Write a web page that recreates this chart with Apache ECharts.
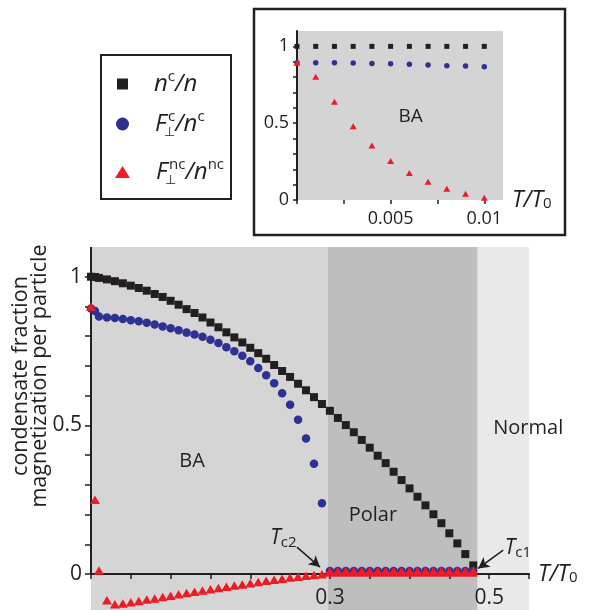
<!DOCTYPE html>
<html>
<head>
<meta charset="utf-8">
<script src="https://cdn.jsdelivr.net/npm/echarts@6/dist/echarts.min.js"></script>
<style>
  html, body { margin: 0; padding: 0; background: #fff; }
  #main { width: 593px; height: 610px; }
</style>
</head>
<body>
<div id="main"></div>
<script>
// temperatures T/T0 of the main panel
const tMain = [0, 0.005, 0.01, 0.02, 0.03, 0.04, 0.05, 0.06, 0.07, 0.08, 0.09,
  0.10, 0.11, 0.12, 0.13, 0.14, 0.15, 0.16, 0.17, 0.18, 0.19,
  0.20, 0.21, 0.22, 0.23, 0.24, 0.25, 0.26, 0.27, 0.28, 0.29,
  0.30, 0.31, 0.32, 0.33, 0.34, 0.35, 0.36, 0.37, 0.38, 0.39,
  0.40, 0.41, 0.42, 0.43, 0.44, 0.45, 0.46, 0.47, 0.48];
// n^c / n
const ncMain = [1.0, 0.999, 0.996, 0.991, 0.985, 0.978, 0.970, 0.962, 0.953, 0.942, 0.932,
  0.919, 0.906, 0.891, 0.878, 0.863, 0.846, 0.830, 0.813, 0.796, 0.779,
  0.761, 0.743, 0.724, 0.703, 0.683, 0.663, 0.640, 0.618, 0.595, 0.572,
  0.549, 0.525, 0.501, 0.477, 0.451, 0.425, 0.398, 0.373, 0.344, 0.316,
  0.288, 0.260, 0.231, 0.201, 0.171, 0.137, 0.103, 0.067, 0.029];
// F_perp^c / n^c
const fcMain = [0.893, 0.885, 0.866, 0.863, 0.861, 0.858, 0.854, 0.850, 0.845, 0.839, 0.833,
  0.827, 0.820, 0.812, 0.806, 0.798, 0.788, 0.777, 0.763, 0.749, 0.734,
  0.716, 0.693, 0.669, 0.642, 0.608, 0.569, 0.519, 0.456, 0.371, 0.238,
  0.01, 0.01, 0.01, 0.01, 0.01, 0.01, 0.01, 0.01, 0.01, 0.01,
  0.01, 0.01, 0.01, 0.01, 0.01, 0.01, 0.01, 0.01, 0.01];
// F_perp^nc / n^nc
const fncMain = [0.90, 0.25, 0.012, -0.088, -0.102, -0.099, -0.095, -0.091, -0.086, -0.082, -0.077,
  -0.073, -0.068, -0.064, -0.060, -0.055, -0.051, -0.047, -0.043, -0.039, -0.035,
  -0.031, -0.027, -0.023, -0.019, -0.016, -0.012, -0.009, -0.006, -0.003, -0.001,
  0.01, 0.01, 0.01, 0.01, 0.01, 0.01, 0.01, 0.01, 0.01, 0.01,
  0.01, 0.01, 0.01, 0.01, 0.01, 0.01, 0.01, 0.01, 0.01];
// red line lying on the axis in the polar phase
const redZeroT = [0.29, 0.485];
const redZeroV = [-0.004, -0.004];

// inset (low temperature)
const tInset = [0, 0.001, 0.002, 0.003, 0.004, 0.005, 0.006, 0.007, 0.008, 0.009, 0.01];
const ncInset = [1, 1, 1, 1, 1, 1, 1, 1, 1, 1, 1];
const fcInset = [0.893, 0.893, 0.893, 0.891, 0.889, 0.887, 0.883, 0.878, 0.874, 0.872, 0.867];
const fncInset = [0.893, 0.802, 0.640, 0.480, 0.354, 0.254, 0.176, 0.119, 0.074, 0.041, 0.015];

// phase boundaries
const phaseEdges = [0, 0.2975, 0.4855, 0.55];

// ticks and labels
const yTicks = [0, 0.1, 0.2, 0.3, 0.4, 0.5, 0.6, 0.7, 0.8, 0.9, 1];
const yLabels = [0, 0.5, 1];
const xTicks = [0, 0.05, 0.1, 0.15, 0.2, 0.25, 0.3, 0.35, 0.4, 0.45, 0.5, 0.55];
const xLabels = [0.3, 0.5];
const insetXTicks = [0, 0.0025, 0.005, 0.0075, 0.01];
const insetXLabels = [0.005, 0.01];

const FONT = '"Open Sans", "DejaVu Sans", sans-serif';
const BLACK = '#231f20';
const BLUE = '#2e3192';
const RED = '#ed1c24';

// main panel: y range and the pixel height of the grid (top 247 → bottom 610)
const Y_MIN = -0.121, Y_MAX = 1.1, GRID_H = 363;
const zeroOffset = -GRID_H * (0 - Y_MIN) / (Y_MAX - Y_MIN);

const pairs = (xs, ys) => xs.map((x, i) => [x, ys[i]]);

const txt = (size, extra) => Object.assign({ fontFamily: FONT, fontSize: size, color: BLACK }, extra || {});

const axisNameRich = {
  i: txt(23, { fontStyle: 'italic' }),
  n: txt(23, { fontStyle: 'italic' }),
  s: txt(15, { verticalAlign: 'bottom', lineHeight: 14 })
};

const legendRich = {
  i: txt(24, { fontStyle: 'italic', lineHeight: 30 }),
  F: txt(24, { fontStyle: 'italic', lineHeight: 30, width: 9 }),
  p: txt(15, { lineHeight: 16, verticalAlign: 'top' }),
  pF: txt(15, { lineHeight: 16, verticalAlign: 'top', padding: [0, 0, 0, 4] }),
  b: { fontFamily: 'DejaVu Sans', fontSize: 13, color: BLACK, lineHeight: 8, verticalAlign: 'bottom', width: 0 }
};
const legendText = {
  nc: '{i|n}{p|c}{i|/n}',
  Fc: '{F|F}{b|⊥}{pF|c}{i|/n}{p|c}',
  Fnc: '{F|F}{b|⊥}{pF|nc}{i|/n}{p|nc}'
};
const makeLegend = (name, icon, w, h, left, top) => ({
  data: [{ name: name, icon: icon }],
  orient: 'vertical',
  left: left,
  top: top,
  padding: 0,
  itemWidth: w,
  itemHeight: h,
  selectedMode: false,
  formatter: (n) => legendText[n],
  textStyle: { padding: [0, 0, 0, 21], rich: legendRich }
});

const chart = echarts.init(document.getElementById('main'), null, { renderer: 'canvas' });

chart.setOption({
  animation: false,
  backgroundColor: '#fff',
  legend: [
    makeLegend('nc', 'rect', 11, 11, 117, 69),
    makeLegend('Fc', 'circle', 13, 13, 116, 109),
    makeLegend('Fnc', 'triangle', 15, 12, 115, 157)
  ],
  grid: [
    { left: 91, top: 247, right: 64, height: GRID_H, containLabel: false, outerBoundsMode: 'none' },
    { left: 297, top: 31, width: 206, height: 169, show: true, backgroundColor: '#d5d4d5', borderWidth: 0, outerBoundsMode: 'none' }
  ],
  xAxis: [
    {
      type: 'value', gridIndex: 0, min: 0, max: 0.55, z: 2,
      position: 'bottom', offset: zeroOffset,
      splitLine: { show: false },
      axisLine: { show: true, onZero: false, lineStyle: { color: BLACK, width: 2 } },
      axisTick: { show: true, length: 5, customValues: xTicks, lineStyle: { color: BLACK, width: 1.5 } },
      axisLabel: { customValues: xLabels, margin: 13, ...txt(21) },
      name: '{i|T}{n|/}{i|T}{s|0}', nameLocation: 'end', nameGap: 9,
      nameTextStyle: { rich: axisNameRich, verticalAlign: 'middle' }
    },
    {
      type: 'value', gridIndex: 1, min: 0, max: 0.011, z: 2,
      splitLine: { show: false },
      axisLine: { show: false },
      axisTick: { show: true, length: 4, customValues: insetXTicks, lineStyle: { color: BLACK, width: 1.5 } },
      axisLabel: { customValues: insetXLabels, margin: 10, ...txt(18) },
      name: '{i|T}{n|/}{i|T}{s|0}', nameLocation: 'end', nameGap: 9,
      nameTextStyle: { rich: axisNameRich, verticalAlign: 'middle' }
    }
  ],
  yAxis: [
    {
      type: 'value', gridIndex: 0, min: Y_MIN, max: Y_MAX, z: 2,
      splitLine: { show: false },
      axisLine: { show: false },
      axisTick: { show: true, length: 6, customValues: yTicks, lineStyle: { color: BLACK, width: 1.5 } },
      axisLabel: { customValues: yLabels, margin: 9, ...txt(21) }
    },
    {
      type: 'value', gridIndex: 1, min: 0, max: 1.1, z: 2,
      splitLine: { show: false },
      axisLine: { show: true, lineStyle: { color: BLACK, width: 2 } },
      axisTick: { show: true, length: 4, customValues: yTicks, lineStyle: { color: BLACK, width: 1.5 } },
      axisLabel: { customValues: yLabels, margin: 8, ...txt(18) }
    }
  ],
  graphic: [
    {
      type: 'rect', shape: { x: 101, y: 55, width: 130, height: 144 },
      style: { fill: 'none', stroke: BLACK, lineWidth: 2 }, silent: true
    },
    {
      type: 'rect', shape: { x: 254, y: 9, width: 311, height: 226 },
      style: { fill: 'none', stroke: BLACK, lineWidth: 2.5 }, silent: true
    },
    {
      type: 'text', x: 30, y: 376, rotation: Math.PI / 2, silent: true,
      style: {
        text: 'condensate fraction\nmagnetization per particle',
        fontFamily: FONT, fontSize: 21.5, lineHeight: 19, fill: BLACK,
        textAlign: 'center', textVerticalAlign: 'middle', align: 'center', verticalAlign: 'middle'
      }
    }
  ],
  series: [
    {
      // phase shading, drawn under the axes
      type: 'line', xAxisIndex: 0, yAxisIndex: 0, name: 'phases',
      data: [], z: 1, silent: true,
      markArea: {
        silent: true,
        data: [
          [{ xAxis: phaseEdges[0], itemStyle: { color: '#d6d5d6' } }, { xAxis: phaseEdges[1] }],
          [{ xAxis: phaseEdges[1], itemStyle: { color: '#bebebe' } }, { xAxis: phaseEdges[2] }],
          [{ xAxis: phaseEdges[2], itemStyle: { color: '#e9e9e9' } }, { xAxis: phaseEdges[3] }]
        ]
      },
      markPoint: {
        silent: true, symbol: 'circle', symbolSize: 0,
        label: { show: true, position: 'inside', formatter: '{b}', ...txt(20) },
        data: [
          { name: 'BA', coord: [0.127, 0.38] },
          { name: 'Polar', coord: [0.354, 0.198] },
          { name: 'Normal', coord: [0.549, 0.491] }
        ]
      }
    },
    {
      // red segment on the axis (polar phase) + y axis line
      type: 'line', xAxisIndex: 0, yAxisIndex: 0, name: 'zero',
      data: pairs(redZeroT, redZeroV), symbol: 'none',
      lineStyle: { color: RED, width: 3 }, z: 3, silent: true,
      markLine: {
        silent: true, symbol: 'none', label: { show: false },
        lineStyle: { color: BLACK, width: 2, type: 'solid' },
        data: [[{ coord: [0, 0] }, { coord: [0, 1.1] }]]
      }
    },
    {
      type: 'scatter', name: 'nc', xAxisIndex: 0, yAxisIndex: 0,
      data: pairs(tMain, ncMain), symbol: 'rect', symbolSize: 8,
      itemStyle: { color: BLACK, opacity: 1 }, z: 4,
      markLine: {
        silent: true, symbol: ['none', 'arrow'], symbolSize: [9, 11], label: { show: false },
        lineStyle: { color: BLACK, width: 1.6, type: 'solid' },
        data: [
          [{ coord: [0.2586, 0.0908] }, { coord: [0.2875, 0.0235] }],
          [{ coord: [0.5176, 0.0807] }, { coord: [0.4862, 0.019] }]
        ]
      },
      markPoint: {
        silent: true, symbol: 'circle', symbolSize: 0,
        label: {
          show: true, position: 'inside', formatter: '{i|T}{s|{b}}',
          rich: {
            i: txt(21, { fontStyle: 'italic', lineHeight: 24 }),
            s: txt(15, { verticalAlign: 'bottom', lineHeight: 12 })
          }
        },
        data: [
          { name: 'c2', coord: [0.2417, 0.121] },
          { name: 'c1', coord: [0.536, 0.0875] }
        ]
      }
    },
    {
      type: 'scatter', name: 'Fc', xAxisIndex: 0, yAxisIndex: 0,
      data: pairs(tMain, fcMain), symbol: 'circle', symbolSize: 8.5,
      itemStyle: { color: BLUE, opacity: 1 }, z: 5
    },
    {
      type: 'scatter', name: 'Fnc', xAxisIndex: 0, yAxisIndex: 0,
      data: pairs(tMain, fncMain), symbol: 'triangle', symbolSize: [10, 8.5],
      itemStyle: { color: RED, opacity: 1 }, z: 6
    },
    {
      type: 'scatter', name: 'nc', xAxisIndex: 1, yAxisIndex: 1,
      data: pairs(tInset, ncInset), symbol: 'rect', symbolSize: 5,
      itemStyle: { color: BLACK, opacity: 1 }, z: 4,
      markPoint: {
        silent: true, symbol: 'circle', symbolSize: 0,
        label: { show: true, position: 'inside', formatter: '{b}', ...txt(19) },
        data: [{ name: 'BA', coord: [0.00607, 0.54] }]
      }
    },
    {
      type: 'scatter', name: 'Fc', xAxisIndex: 1, yAxisIndex: 1,
      data: pairs(tInset, fcInset), symbol: 'circle', symbolSize: 5.5,
      itemStyle: { color: BLUE, opacity: 1 }, z: 5
    },
    {
      type: 'scatter', name: 'Fnc', xAxisIndex: 1, yAxisIndex: 1,
      data: pairs(tInset, fncInset), symbol: 'triangle', symbolSize: [7, 6],
      itemStyle: { color: RED, opacity: 1 }, z: 6
    }
  ]
});
</script>
</body>
</html>
